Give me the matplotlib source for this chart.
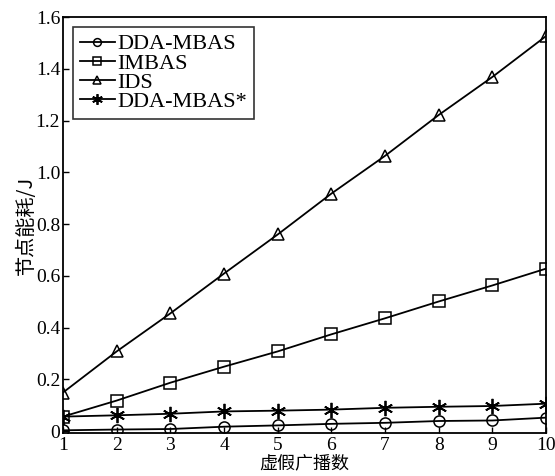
import matplotlib
matplotlib.use('Agg')
import matplotlib.pyplot as plt

plt.rcParams['font.family'] = ['Liberation Serif', 'Noto Sans CJK SC']

# 虚假广播数
broadcasts = [1, 2, 3, 4, 5, 6, 7, 8, 9, 10]

# 节点能耗 (J)
dda_mbas = [0.003, 0.006, 0.008, 0.017, 0.022, 0.028, 0.032, 0.039, 0.041, 0.052]
imbas = [0.056, 0.118, 0.187, 0.249, 0.308, 0.374, 0.436, 0.501, 0.563, 0.628]
ids = [0.149, 0.308, 0.455, 0.609, 0.760, 0.918, 1.064, 1.222, 1.369, 1.527]
dda_mbas_star = [0.056, 0.061, 0.067, 0.076, 0.079, 0.083, 0.090, 0.094, 0.097, 0.106]

series_names = ['DDA-MBAS', 'IMBAS', 'IDS', 'DDA-MBAS*']
yticks = [0, 0.2, 0.4, 0.6, 0.8, 1.0, 1.2, 1.4, 1.6]
ytick_labels = ['0', '0.2', '0.4', '0.6', '0.8', '1.0', '1.2', '1.4', '1.6']

fig = plt.figure(figsize=(5.55, 4.76), dpi=100)
ax = fig.add_axes([0.1135, 0.09, 0.8705, 0.874])

styles = [('o', dda_mbas), ('s', imbas), ('^', ids), ((6, 2, 0), dda_mbas_star)]
for (marker, vals), name in zip(styles, series_names):
    if name == 'DDA-MBAS*':
        ax.plot(broadcasts, vals, color='black', lw=1.3, marker=marker,
                ms=11, mew=1.3, label=name)
    else:
        ax.plot(broadcasts, vals, color='black', lw=1.3, marker=marker,
                ms=8, mfc='none', mew=1.1, label=name)

ax.set_xlim(1, 10)
ax.set_ylim(-0.008, 1.6)
ax.set_xticks(broadcasts)
ax.set_yticks(yticks)
ax.set_yticklabels(ytick_labels)
ax.tick_params(direction='in', length=4, width=1, labelsize=14,
               top=False, right=False)
ax.tick_params(axis='x', pad=3)
ax.tick_params(axis='y', pad=2)
for s in ax.spines.values():
    s.set_linewidth(1.3)

ax.set_xlabel('虚假广播数', fontsize=13, labelpad=0,
              family=['Noto Sans CJK SC'])
ax.set_ylabel('节点能耗/J', fontsize=14.5, labelpad=-1,
              family=['Noto Sans CJK SC', 'Liberation Serif'])

leg = ax.legend(loc='upper left', fontsize=16, frameon=True, fancybox=False,
                handlelength=1.6, handletextpad=0.1, borderpad=0.3,
                labelspacing=-0.06, borderaxespad=0.45, markerscale=0.7)
leg.get_frame().set_edgecolor('black')
leg.get_frame().set_linewidth(1.2)

fig.savefig('out.png', dpi=100)
